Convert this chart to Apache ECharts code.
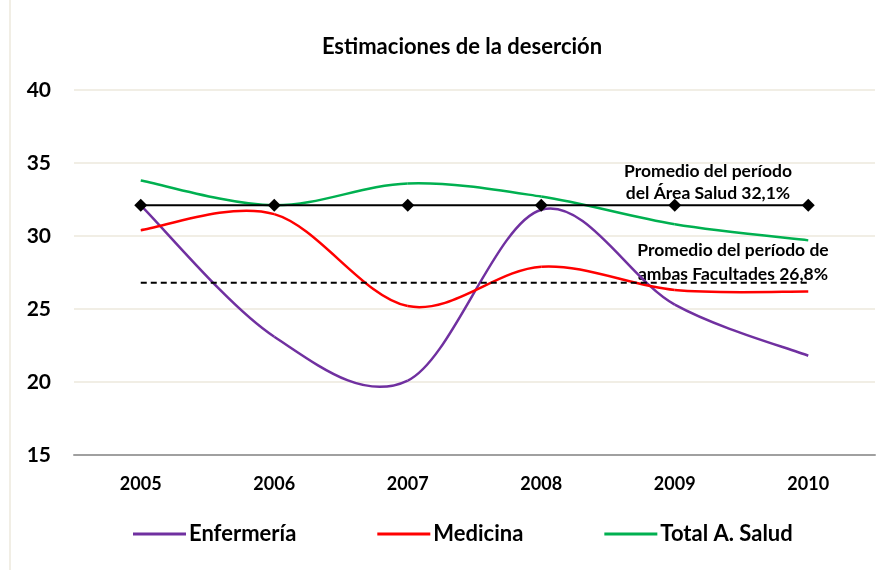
<!DOCTYPE html>
<html>
<head>
<meta charset="utf-8">
<title>Estimaciones de la deserción</title>
<script src="https://cdn.jsdelivr.net/npm/echarts@6/dist/echarts.min.js"></script>
<style type="text/css">
html, body { margin: 0; padding: 0; background: #fff; }
#chart { width: 890px; height: 570px; }
</style>
</head>
<body>
<div id="chart"></div>
<script>
// data
var years = ['2005', '2006', '2007', '2008', '2009', '2010'];
var enfermeria = [32.1, 23.1, 20.1, 31.8, 25.3, 21.8];
var medicina = [30.4, 31.5, 25.2, 27.9, 26.3, 26.2];
var totalSalud = [33.8, 32.1, 33.6, 32.7, 30.8, 29.7];
var promedioSalud = [32.1, 32.1, 32.1, 32.1, 32.1, 32.1];
var promedioFacultades = [26.8, 26.8, 26.8, 26.8, 26.8, 26.8];

var font = 'Lato, "Open Sans", sans-serif';
var chart = echarts.init(document.getElementById('chart'));

// Excel-like smoothed line: one bezier segment per point, control points
// taken from the neighbours (catmull-rom, 1/6 tension)
var smoothSeries = function (name, values, color) {
    return {
        name: name,
        type: 'custom',
        itemStyle: { color: color },
        data: values.map(function (v, i) { return [i, v]; }),
        z: 3,
        renderItem: function (params, api) {
            var i = params.dataIndex;
            if (i >= values.length - 1) return null;
            var pt = function (k) {
                k = Math.max(0, Math.min(values.length - 1, k));
                return api.coord([k, values[k]]);
            };
            var p0 = pt(i - 1), p1 = pt(i), p2 = pt(i + 1), p3 = pt(i + 2);
            return {
                type: 'bezierCurve',
                shape: {
                    x1: p1[0], y1: p1[1], x2: p2[0], y2: p2[1],
                    cpx1: p1[0] + (p2[0] - p0[0]) / 6, cpy1: p1[1] + (p2[1] - p0[1]) / 6,
                    cpx2: p2[0] - (p3[0] - p1[0]) / 6, cpy2: p2[1] - (p3[1] - p1[1]) / 6
                },
                style: { stroke: color, lineWidth: 2.5, fill: null }
            };
        }
    };
};

chart.setOption({
    animation: false,
    backgroundColor: '#fff',
    title: {
        text: 'Estimaciones de la deserción',
        left: 457,
        textAlign: 'center',
        top: 31,
        textStyle: { fontFamily: font, fontSize: 22, fontWeight: 'bold', color: '#000' }
    },
    grid: { left: 74, right: 15, top: 90, bottom: 115 },
    legend: {
        bottom: 20,
        left: 128,
        itemWidth: 53,
        itemHeight: 3,
        itemGap: 81,
        icon: 'rect',
        data: ['Enfermería', 'Medicina', 'Total A. Salud'],
        textStyle: { fontFamily: font, fontSize: 22, fontWeight: 'bold', color: '#000', padding: [0, 0, 0, -2] }
    },
    xAxis: {
        type: 'category',
        data: years,
        boundaryGap: true,
        axisTick: { show: false },
        axisLine: { lineStyle: { color: '#a0a0a0', width: 2 } },
        axisLabel: { margin: 20, fontFamily: font, fontSize: 18, fontWeight: 'bold', color: '#000' }
    },
    yAxis: {
        type: 'value',
        min: 15,
        max: 40,
        interval: 5,
        axisLine: { show: false },
        axisTick: { show: false },
        splitLine: { lineStyle: { color: '#ece8dc', width: 1.5 } },
        axisLabel: { margin: 23, fontFamily: font, fontSize: 21, fontWeight: 'bold', color: '#000' }
    },
    series: [
        smoothSeries('Enfermería', enfermeria, '#7030a0'),
        smoothSeries('Medicina', medicina, '#ff0000'),
        smoothSeries('Total A. Salud', totalSalud, '#00b050'),
        {
            name: 'Promedio Salud', type: 'line', data: promedioSalud,
            symbol: 'diamond', symbolSize: 13, color: '#000',
            lineStyle: { width: 2 }, z: 4
        },
        {
            name: 'Promedio Facultades', type: 'line', data: promedioFacultades,
            showSymbol: false, color: '#000',
            lineStyle: { width: 2, type: [6, 4] }, z: 4
        }
    ],
    graphic: [
        {
            type: 'line', shape: { x1: 10, y1: 0, x2: 10, y2: 570 },
            style: { stroke: '#ece8dc', lineWidth: 1.5 }
        },
        {
            type: 'text', x: 708, y: 160,
            style: {
                text: 'Promedio del período\ndel Área Salud 32,1%',
                align: 'center', verticalAlign: 'top', lineHeight: 22,
                font: 'bold 17.5px ' + font, fill: '#000'
            }
        },
        {
            type: 'text', x: 733, y: 238,
            style: {
                text: 'Promedio del período de\nambas Facultades 26,8%',
                align: 'center', verticalAlign: 'top', lineHeight: 24,
                font: 'bold 17.5px ' + font, fill: '#000'
            }
        }
    ]
});
</script>
</body>
</html>
